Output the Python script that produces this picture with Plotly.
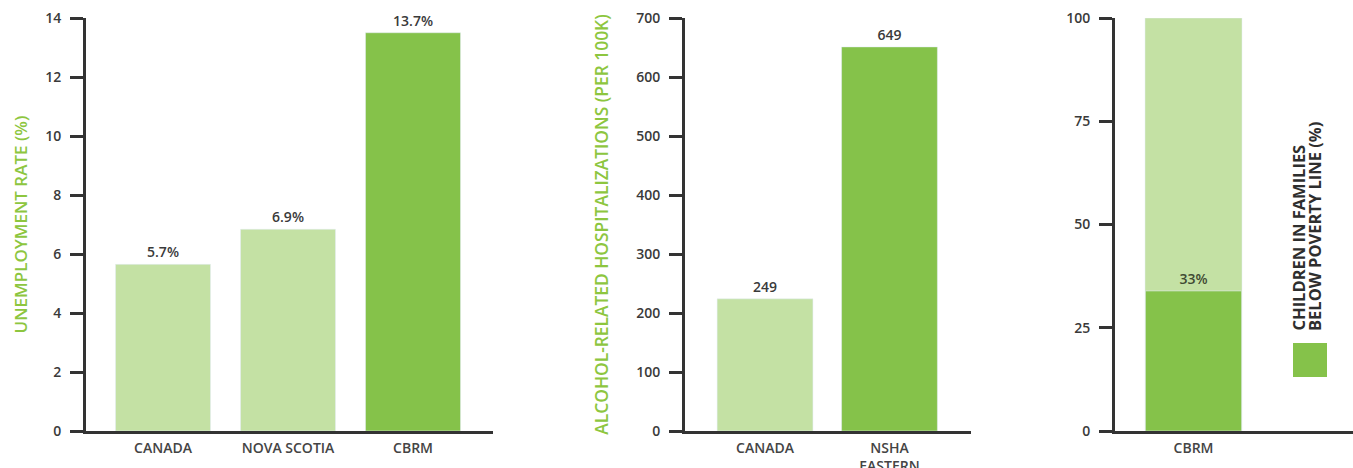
import plotly.graph_objects as go

# ---- data ----
unemp_cats = ["CANADA", "NOVA SCOTIA", "CBRM"]
unemp_vals = [5.65, 6.84, 13.5]
unemp_text = ["5.7%", "6.9%", "13.7%"]

alc_cats = ["CANADA", "NSHA<br>EASTERN"]
alc_vals = [224, 651]
alc_text = ["249", "649"]

pov_cats = ["CBRM"]
pov_total = [100]
pov_vals = [33.9]
pov_text = ["33%"]

unemp_ticks = [0, 2, 4, 6, 8, 10, 12, 14]
alc_ticks = [0, 100, 200, 300, 400, 500, 600, 700]
pov_ticks = [0, 25, 50, 75, 100]

legend_lines = ["CHILDREN IN FAMILIES", "BELOW POVERTY LINE (%)"]

LIGHT = "#c4e1a4"
DARK = "#85c24a"
TITLE_GREEN = "#8dc63f"
INK = "#333333"
FONT = "Open Sans"

W, H = 1353, 468

def px_x(a, b):
    return [a / W, b / W]

Y_DOM = [(H - 431) / H, (H - 18) / H]

fig = go.Figure()

vfont = dict(family=FONT, size=14, color="#3a3a3a", weight=600)

fig.add_trace(go.Bar(x=unemp_cats, y=unemp_vals, text=unemp_text,
                     marker=dict(color=[LIGHT, LIGHT, DARK]), width=0.76,
                     textposition="outside", cliponaxis=False, textfont=vfont,
                     xaxis="x", yaxis="y", showlegend=False))
fig.add_trace(go.Bar(x=alc_cats, y=alc_vals, text=alc_text,
                     marker=dict(color=[LIGHT, DARK]), width=0.77,
                     textposition="outside", cliponaxis=False, textfont=vfont,
                     xaxis="x2", yaxis="y2", showlegend=False))
fig.add_trace(go.Bar(x=pov_cats, y=pov_total,
                     marker=dict(color=LIGHT), width=0.776,
                     textposition="none",
                     xaxis="x3", yaxis="y3", showlegend=False))
fig.add_trace(go.Bar(x=pov_cats, y=pov_vals, text=pov_text,
                     marker=dict(color=DARK), width=0.768,
                     textposition="outside", cliponaxis=False,
                     textfont=dict(family=FONT, size=14, color="#3f4a33", weight=600),
                     xaxis="x3", yaxis="y3", showlegend=False))

xcommon = dict(showline=True, linewidth=3, linecolor=INK, ticks="",
               showgrid=False, zeroline=False, fixedrange=True, automargin=False,
               tickfont=dict(family=FONT, size=14, color="#444444", weight=600),
               ticklabelstandoff=2)
ycommon = dict(showline=True, linewidth=3, linecolor=INK, ticks="outside",
               ticklen=13, tickwidth=3, tickcolor=INK, showgrid=False,
               zeroline=False, fixedrange=True, automargin=False,
               tickfont=dict(family=FONT, size=14, color="#3a3a3a", weight=600),
               ticklabelstandoff=6)

fig.update_layout(
    width=W, height=H,
    margin=dict(l=0, r=0, t=0, b=0),
    paper_bgcolor="white", plot_bgcolor="white",
    barmode="overlay",
    font=dict(family=FONT, size=14, color=INK),
    xaxis=dict(domain=px_x(86, 493), range=[-0.616, 2.64], anchor="y", **xcommon),
    yaxis=dict(domain=Y_DOM, range=[0, 14], tickvals=unemp_ticks, anchor="x",
               title=dict(text="UNEMPLOYMENT RATE (%)", standoff=14,
                          font=dict(family=FONT, size=17, color=TITLE_GREEN, weight=600)),
               **ycommon),
    xaxis2=dict(domain=px_x(685, 971), range=[-0.643, 1.655], anchor="y2", **xcommon),
    yaxis2=dict(domain=Y_DOM, range=[0, 700], tickvals=alc_ticks, anchor="x2",
                title=dict(text="ALCOHOL-RELATED HOSPITALIZATIONS (PER 100K)", standoff=24,
                           font=dict(family=FONT, size=17.4, color=TITLE_GREEN, weight=600)),
                **ycommon),
    xaxis3=dict(domain=px_x(1115, 1353), range=[-0.628, 1.276], anchor="y3", **xcommon),
    yaxis3=dict(domain=Y_DOM, range=[0, 100], tickvals=pov_ticks, anchor="x3", **ycommon),
)

# legend swatch and rotated legend label for the poverty panel
fig.add_shape(type="rect", xref="paper", yref="paper",
              x0=1293 / W, x1=1327 / W, y0=(H - 377) / H, y1=(H - 343) / H,
              fillcolor=DARK, line=dict(width=0))
for line_text, xc in zip(legend_lines, [1297.5, 1314.5]):
    fig.add_annotation(xref="paper", yref="paper", x=xc / W, y=(H - 333) / H,
                       xanchor="center", yanchor="bottom", showarrow=False,
                       textangle=-90, text=line_text,
                       font=dict(family=FONT, size=16.5, color="#2e2e2e", weight="bold"))

fig.write_html("out.html")
